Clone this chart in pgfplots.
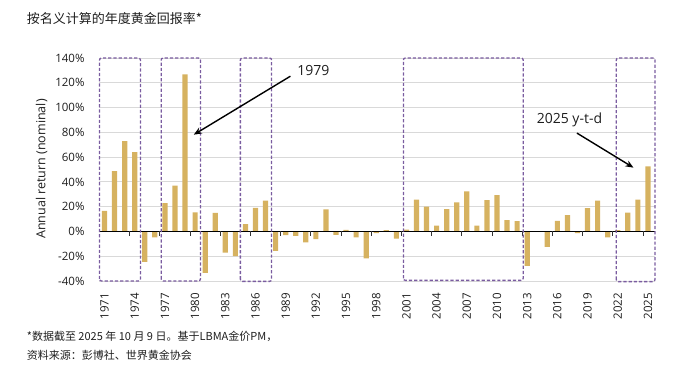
\documentclass[border=0pt]{standalone}
\usepackage{fontspec}
\setmainfont{Open Sans}
\newfontfamily\cjk{Noto Sans CJK SC}
\usepackage{pgfplots}
\pgfplotsset{compat=1.18}
\usetikzlibrary{arrows.meta}
\definecolor{gold}{RGB}{214,178,96}
\definecolor{boxpurple}{RGB}{122,92,160}
\definecolor{gridgray}{RGB}{217,217,217}
\definecolor{txt}{RGB}{30,30,30}

\pgfplotstableread{
year ret
1971 16.7
1972 48.7
1973 73.0
1974 64.0
1975 -24.5
1976 -4.8
1977 22.9
1978 37.0
1979 126.8
1980 15.3
1981 -33.4
1982 15.0
1983 -17.0
1984 -20.0
1985 6.0
1986 19.0
1987 24.8
1988 -15.6
1989 -3.0
1990 -3.5
1991 -8.9
1992 -6.2
1993 17.8
1994 -2.7
1995 1.3
1996 -4.8
1997 -21.8
1998 -1.3
1999 1.1
2000 -5.7
2001 1.5
2002 25.6
2003 20.0
2004 4.6
2005 18.0
2006 23.4
2007 32.3
2008 4.6
2009 25.3
2010 29.3
2011 9.2
2012 8.3
2013 -27.7
2014 -0.3
2015 -12.4
2016 8.6
2017 13.2
2018 -1.3
2019 18.9
2020 24.8
2021 -4.8
2022 1.1
2023 15.1
2024 25.6
2025 52.5
}\goldtable

\begin{document}
\begin{tikzpicture}
\useasboundingbox (-99.5pt,-88pt) rectangle (578.5pt,281pt);
\begin{axis}[
  at={(0pt,0pt)}, anchor=south west,
  scale only axis, width=555.5pt, height=223pt,
  xmin=1970.5, xmax=2025.7, ymin=-40, ymax=140,
  clip=false,
  axis line style={draw=none},
  tick style={draw=none},
  ymajorgrids, grid style={gridgray, line width=0.9pt},
  ytick={-40,-20,...,140},
  xtick={1971,1974,...,2025},
  yticklabel={\pgfmathparse{int(round(\tick))}\pgfmathresult\%},
  xticklabel={\pgfmathparse{int(round(\tick))}\pgfmathresult},
  yticklabel style={font=\fontsize{11.5}{13}\selectfont, text=txt, xshift=-11.5pt},
  xticklabel style={font=\fontsize{11.5}{13}\selectfont, text=txt, yshift=-8.5pt, rotate=90, anchor=east},
]
\addplot[ybar, bar width=5.2pt, fill=gold, draw=none] table[x=year, y=ret] {\goldtable};

\draw[black, line width=1pt] (axis cs:1970.5,0) -- (axis cs:2025.7,0);
\pgfplotsinvokeforeach{1973.5,1976.5,1979.5,1982.5,1985.5,1988.5,1991.5,1994.5,1997.5,2000.5,2003.5,2006.5,2009.5,2012.5,2015.5,2018.5,2021.5,2024.5}{
  \draw[black!80, line width=0.8pt] (axis cs:#1,0) -- ++(0pt,-4.5pt);
}

\begin{scope}[boxpurple, line width=1.3pt, dash pattern=on 3.2pt off 2pt, rounded corners=2pt]
\draw (axis cs:1970.5,-40) rectangle (axis cs:1974.57,140);
\draw (axis cs:1976.63,-40) rectangle (axis cs:1980.53,140);
\draw (axis cs:1984.5,-40.3) rectangle (axis cs:1987.6,140);
\draw (axis cs:2000.7,-39.5) rectangle (axis cs:2012.6,140);
\draw (axis cs:2021.85,-40.5) rectangle (axis cs:2025.7,140);
\end{scope}

\draw[black, line width=1.4pt, -{Stealth[length=8pt,width=6.5pt]}] (axis cs:1989.47,125.3) -- (axis cs:1979.87,78.1);
\node[font=\fontsize{14}{16}\selectfont, text=txt] at (axis cs:1991.75,130) {1979};
\draw[black, line width=1.4pt, -{Stealth[length=8pt,width=6.5pt]}] (axis cs:2017.94,79.4) -- (axis cs:2023.56,51.5);
\node[font=\fontsize{14}{16}\selectfont, text=txt] at (axis cs:2017.2,89.7) {2025 y-t-d};
\end{axis}

\node[rotate=90, font=\fontsize{12.5}{14}\selectfont, text=txt] at (-57.8pt,112pt) {Annual return (nominal)};
\node[anchor=west, inner sep=0pt, font=\cjk\fontsize{13}{15}\selectfont, text=txt] at (-72.8pt,262pt) {按名义计算的年度黄金回报率*};
\node[anchor=west, inner sep=0pt, font=\cjk\fontsize{11}{13}\selectfont, text=txt] at (-72.8pt,-55pt) {*数据截至 2025 年 10 月 9 日。基于LBMA金价PM，};
\node[anchor=west, inner sep=0pt, font=\cjk\fontsize{11}{13}\selectfont, text=txt] at (-72.8pt,-74pt) {资料来源：彭博社、世界黄金协会};
\end{tikzpicture}
\end{document}
